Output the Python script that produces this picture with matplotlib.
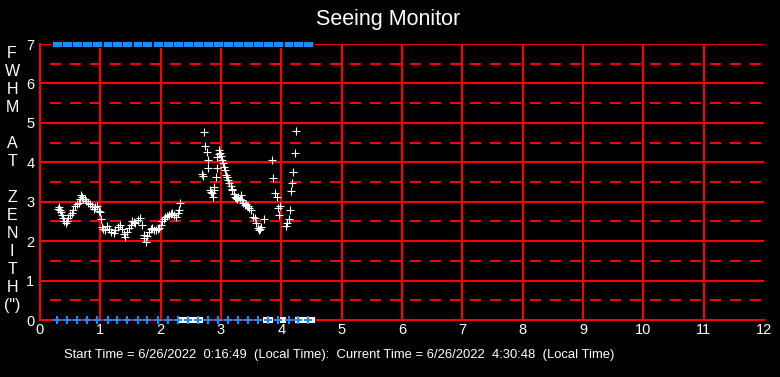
import matplotlib
matplotlib.use("Agg")
import matplotlib.pyplot as plt

plt.rcParams['font.family'] = ['Liberation Sans', 'DejaVu Sans']
plt.rcParams['lines.scale_dashes'] = False

# seeing measurements (hours since midnight, FWHM arcsec)
hours_a = [0.30, 0.31, 0.33, 0.35, 0.36, 0.38, 0.40, 0.43, 0.45, 0.47, 0.50, 0.53, 0.55, 0.58,
           0.61, 0.64, 0.66, 0.68, 0.70, 0.72, 0.75, 0.77, 0.80, 0.83, 0.86, 0.89, 0.91, 0.94,
           0.97, 1.00, 1.01, 1.03, 1.05, 1.08, 1.11, 1.14, 1.18, 1.22, 1.25, 1.29, 1.33, 1.36,
           1.39, 1.41, 1.44, 1.47, 1.50, 1.53, 1.56, 1.58, 1.62, 1.66, 1.69, 1.72, 1.73, 1.75,
           1.78, 1.81, 1.84, 1.86, 1.89, 1.92, 1.95, 1.97, 2.00, 2.03, 2.06, 2.08, 2.11, 2.14,
           2.17, 2.19, 2.22, 2.25, 2.28, 2.31, 2.32]
fwhm_a = [2.82, 2.86, 2.78, 2.75, 2.66, 2.58, 2.52, 2.45, 2.50, 2.58, 2.66, 2.71, 2.80, 2.88,
          2.93, 2.98, 3.08, 3.17, 3.12, 3.08, 3.06, 3.02, 2.98, 2.95, 2.90, 2.81, 2.86, 2.88,
          2.77, 2.74, 2.56, 2.37, 2.30, 2.28, 2.39, 2.30, 2.22, 2.20, 2.28, 2.37, 2.41, 2.30,
          2.18, 2.11, 2.22, 2.33, 2.42, 2.50, 2.48, 2.47, 2.53, 2.58, 2.41, 2.16, 2.08, 1.99,
          2.12, 2.24, 2.30, 2.33, 2.28, 2.29, 2.31, 2.33, 2.42, 2.50, 2.57, 2.62, 2.64, 2.66,
          2.68, 2.71, 2.66, 2.62, 2.71, 2.79, 2.96]

hours_b = [2.69, 2.70, 2.72, 2.74, 2.76, 2.78, 2.79, 2.81, 2.83, 2.85, 2.86, 2.88, 2.89, 2.91,
           2.93, 2.94, 2.96, 2.97, 2.99, 3.00, 3.02, 3.03, 3.05, 3.06, 3.08, 3.10, 3.12, 3.14,
           3.16, 3.18, 3.19, 3.21, 3.23, 3.25, 3.27, 3.29, 3.31, 3.33, 3.35, 3.37, 3.39, 3.41,
           3.43, 3.45, 3.47, 3.50, 3.53, 3.56, 3.58, 3.61, 3.63, 3.65, 3.67, 3.71, 3.85, 3.87,
           3.89, 3.92, 3.94, 3.96, 3.97, 4.07, 4.10, 4.12, 4.14, 4.16, 4.17, 4.19, 4.22, 4.24]
fwhm_b = [3.70, 3.66, 4.76, 4.42, 4.26, 4.06, 3.85, 3.30, 3.25, 3.23, 3.11, 3.30, 3.38, 3.62,
          3.85, 4.13, 4.22, 4.31, 4.24, 4.16, 4.05, 3.98, 3.88, 3.80, 3.68, 3.62, 3.55, 3.47,
          3.40, 3.33, 3.30, 3.20, 3.12, 3.09, 3.06, 3.12, 3.08, 3.17, 3.05, 2.98, 2.92, 2.95,
          2.88, 2.90, 2.83, 2.79, 2.62, 2.58, 2.45, 2.33, 2.28, 2.30, 2.37, 2.55, 4.05, 3.60,
          3.21, 3.13, 2.83, 2.66, 2.89, 2.39, 2.45, 2.55, 2.79, 3.26, 3.47, 3.76, 4.23, 4.80]

# status markers
status_hours = [0.28, 0.45, 0.62, 0.78, 0.95, 1.12, 1.28, 1.45, 1.62, 1.78, 1.95, 2.12, 2.28,
                2.45, 2.62, 2.78, 2.95, 3.12, 3.28, 3.45, 3.62, 3.78, 3.95, 4.12, 4.28, 4.45]
flag_hours = [2.35, 2.39, 2.43, 2.47, 2.51, 2.55, 2.59, 2.63, 2.66, 3.74, 3.78, 3.82,
              4.02, 4.27, 4.31, 4.35, 4.39, 4.43, 4.47, 4.51]

ylabel_lines = ['F', 'W', 'H', 'M', '', 'A', 'T', '', 'Z', 'E', 'N', 'I', 'T', 'H', '(")']
title = 'Seeing Monitor'
footer = 'Start Time = 6/26/2022  0:16:49  (Local Time):  Current Time = 6/26/2022  4:30:48  (Local Time)'

fig = plt.figure(figsize=(7.8, 3.77), dpi=100, facecolor='black')
ax = fig.add_axes([40 / 780, 57 / 377, 724 / 780, 276 / 377], facecolor='black')

red = '#ff0000'
for v in range(1, 12):
    ax.axvline(v, color=red, lw=1.5, zorder=1)
for v in range(1, 7):
    ax.axhline(v, color=red, lw=1.5, zorder=1)
for v in [0.5, 1.5, 2.5, 3.5, 4.5, 5.5, 6.5]:
    ax.axhline(v, color=red, lw=1.5, linestyle=(7.2, (7.9, 6.5)), zorder=1)

ax.plot(hours_a, fwhm_a, '+', color='white', ms=6, mew=0.8, zorder=3)
ax.plot(hours_b, fwhm_b, '+', color='white', ms=6, mew=0.8, zorder=3)

ax.plot(flag_hours, [0] * len(flag_hours), 's', color='white', ms=4.5, mew=0,
        clip_on=False, zorder=4)
ax.plot(status_hours, [0] * len(status_hours), '+', color='#1a8cff', ms=6, mew=1.5,
        clip_on=False, zorder=5)
rect = [(-1, -0.5), (1, -0.5), (1, 0.5), (-1, 0.5), (-1, -0.5)]
ax.plot(status_hours, [7] * len(status_hours), color='#1a8cff', lw=1.2,
        marker=rect, ms=7.5, mec='black', mew=0.6, clip_on=False, zorder=5)

ax.set_xlim(0, 12)
ax.set_ylim(0, 7)
ax.set_xticks(range(0, 13))
ax.set_yticks(range(0, 8))
ax.tick_params(length=0, colors='white', labelsize=10.5)
ax.tick_params(axis='y', pad=4)
ax.tick_params(axis='x', pad=2)
for s in ax.spines.values():
    s.set_color(red)
    s.set_linewidth(1.5)
ax.spines['top'].set_visible(False)
ax.axhline(7, color=red, lw=1.5, zorder=1)
ax.spines['right'].set_visible(False)

fig.text(388 / 780, 1 - 20 / 377, title, color='white', fontsize=15.5, ha='center', va='center')
fig.text(339 / 780, 1 - 355 / 377, footer, color='white', fontsize=9.4, ha='center', va='center')
for i, ch in enumerate(ylabel_lines):
    fig.text(12 / 780, 1 - (53 + i * 18.07) / 377, ch, color='white', fontsize=11.5,
             ha='center', va='center')

fig.savefig('out.png', dpi=100, facecolor='black')
